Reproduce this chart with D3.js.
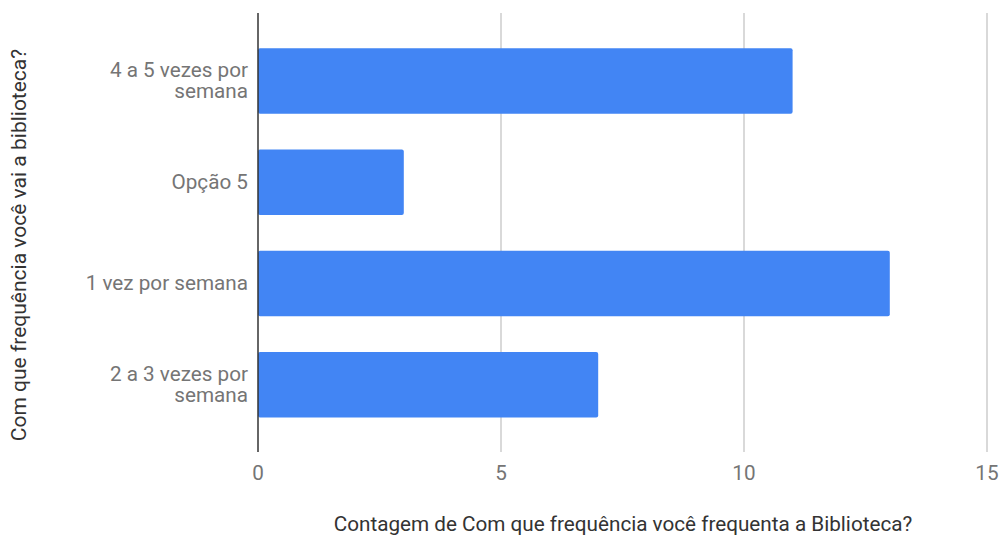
<!DOCTYPE html>
<html>
<head>
<meta charset="utf-8">
<script src="https://cdn.jsdelivr.net/npm/d3@7"></script>
<style>
html,body{margin:0;padding:0;background:#fff;}
svg{display:block;font-family:Roboto, sans-serif;}
</style>
</head>
<body>
<svg id="chart" width="1002" height="536"></svg>
<script>
const categories = ["4 a 5 vezes por semana", "Opção 5", "1 vez por semana", "2 a 3 vezes por semana"];
const categoryLines = [["4 a 5 vezes por", "semana"], ["Opção 5"], ["1 vez por semana"], ["2 a 3 vezes por", "semana"]];
const values = [11, 3, 13, 7];
const xTicks = [0, 5, 10, 15];
const xTitle = "Contagem de Com que frequência você frequenta a Biblioteca?";
const yTitle = "Com que frequência você vai a biblioteca?";

const svg = d3.select("#chart");
const x = d3.scaleLinear().domain([0, 15]).range([258, 987]);
const y = d3.scaleBand().domain(categories).range([30.4, 435.4]).paddingInner(0.355).paddingOuter(0.1775);
const textColor = "#757575";
const fs = 20.7;

// gridlines
svg.append("g").selectAll("line").data(xTicks.filter(d => d !== 0)).join("line")
  .attr("x1", d => x(d)).attr("x2", d => x(d))
  .attr("y1", 13).attr("y2", 452)
  .attr("stroke", "#cccccc").attr("stroke-width", 1.5);

// bars
svg.append("g").selectAll("rect").data(categories).join("rect")
  .attr("x", x(0)).attr("y", d => y(d))
  .attr("width", (d, i) => x(values[i]) - x(0))
  .attr("height", y.bandwidth())
  .attr("rx", 2).attr("fill", "#4285f4");

// zero axis line
svg.append("line").attr("x1", x(0)).attr("x2", x(0)).attr("y1", 13).attr("y2", 452)
  .attr("stroke", "#333333").attr("stroke-width", 1.5);

// x tick labels
svg.append("g").selectAll("text").data(xTicks).join("text")
  .attr("x", d => x(d)).attr("y", 480)
  .attr("text-anchor", "middle").attr("fill", textColor)
  .attr("font-size", fs).text(d => d);

// y category labels
const lh = 21;
svg.append("g").selectAll("text").data(categories).join("text")
  .attr("text-anchor", "end").attr("fill", textColor).attr("font-size", fs)
  .each(function(d, i) {
    const lines = categoryLines[i];
    const cy = y(d) + y.bandwidth() / 2;
    const start = cy - (lines.length - 1) * lh / 2 + 6.5;
    d3.select(this).selectAll("tspan").data(lines).join("tspan")
      .attr("x", 248).attr("y", (l, j) => start + j * lh).text(l => l);
  });

// x title
svg.append("text").attr("x", 623).attr("y", 531).attr("text-anchor", "middle")
  .attr("fill", "#333333").attr("font-size", fs).text(xTitle);

// y title
svg.append("text").attr("transform", "translate(26,245) rotate(-90)")
  .attr("text-anchor", "middle").attr("fill", "#333333").attr("font-size", 21).text(yTitle);
</script>
</body>
</html>
